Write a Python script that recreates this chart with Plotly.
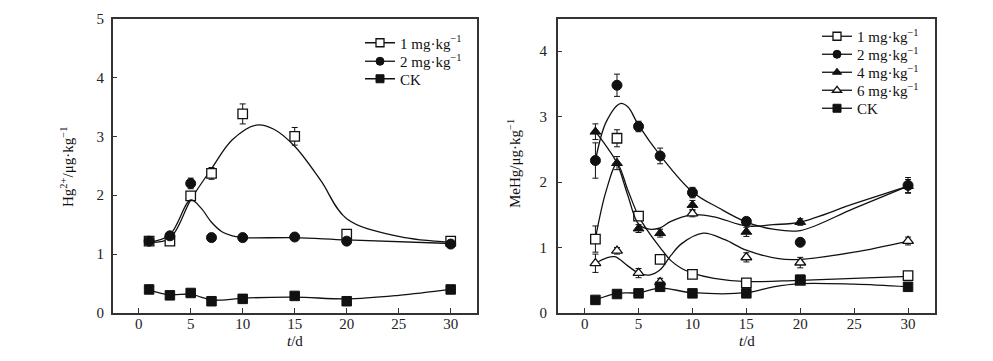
import plotly.graph_objects as go

# ---------------- data ----------------
t = [1, 3, 5, 7, 10, 15, 20, 30]

# Left panel: Hg2+
L_1mg = [1.22, 1.22, 1.99, 2.37, 3.38, 3.00, 1.34, 1.22]
L_1mg_err = [0.03, 0.04, 0.06, 0.10, 0.17, 0.15, 0.05, 0.03]
L_2mg = [1.22, 1.31, 2.20, 1.28, 1.28, 1.29, 1.22, 1.17]
L_2mg_err = [0.04, 0.05, 0.09, 0.04, 0.03, 0.03, 0.03, 0.04]
L_ck = [0.40, 0.30, 0.34, 0.20, 0.24, 0.29, 0.20, 0.40]
L_ck_err = [0.07, 0.05, 0.06, 0.07, 0.07, 0.06, 0.07, 0.06]

# fitted curves
L_1mg_cx = [1, 3, 5, 7, 9, 11.3, 13, 15, 17.5, 20, 25, 30]
L_1mg_cy = [1.20, 1.27, 1.92, 2.45, 2.94, 3.19, 3.12, 2.83, 2.25, 1.60, 1.30, 1.20]
L_2mg_cx = [1, 3, 5, 6, 7, 8, 9, 10, 15, 20, 30]
L_2mg_cy = [1.20, 1.33, 1.92, 1.78, 1.54, 1.38, 1.31, 1.28, 1.28, 1.24, 1.18]
L_ck_cx = [1, 3, 5, 6, 7, 8, 10, 15, 20, 25, 30]
L_ck_cy = [0.39, 0.31, 0.32, 0.27, 0.22, 0.22, 0.25, 0.27, 0.24, 0.30, 0.40]

# Right panel: MeHg
R_1mg = [1.13, 2.67, 1.48, 0.82, 0.59, 0.46, 0.50, 0.57]
R_1mg_err = [0.20, 0.13, 0.06, 0.04, 0.04, 0.04, 0.03, 0.04]
R_2mg = [2.33, 3.48, 2.85, 2.40, 1.84, 1.40, 1.08, 1.95]
R_2mg_err = [0.27, 0.17, 0.08, 0.12, 0.08, 0.06, 0.03, 0.12]
R_4mg = [2.77, 2.29, 1.29, 1.22, 1.65, 1.24, 1.39, 1.94]
R_4mg_err = [0.12, 0.10, 0.06, 0.06, 0.07, 0.07, 0.05, 0.10]
R_6mg = [0.76, 0.95, 0.61, 0.47, 1.52, 0.85, 0.77, 1.10]
R_6mg_err = [0.14, 0.05, 0.07, 0.06, 0.05, 0.07, 0.08, 0.06]
R_ck = [0.20, 0.29, 0.30, 0.40, 0.30, 0.30, 0.51, 0.40]
R_ck_err = [0.03, 0.03, 0.03, 0.03, 0.03, 0.03, 0.03, 0.03]

R_1mg_cx = [1, 2, 3, 4, 5, 6, 7, 8, 9, 10, 12, 15, 20, 30]
R_1mg_cy = [1.14, 1.87, 2.28, 1.88, 1.48, 1.22, 1.00, 0.80, 0.68, 0.61, 0.53, 0.48, 0.50, 0.56]
R_2mg_cx = [1, 2, 3.3, 4, 5, 7, 10, 12.5, 15, 17.5, 20, 25, 30]
R_2mg_cy = [2.33, 2.92, 3.20, 3.15, 2.87, 2.41, 1.85, 1.60, 1.39, 1.28, 1.26, 1.60, 1.94]
R_4mg_cx = [1, 2, 3, 4, 5, 6, 7, 8, 10, 12, 15, 17.5, 20, 25, 30]
R_4mg_cy = [2.77, 2.55, 2.29, 1.80, 1.36, 1.28, 1.30, 1.40, 1.50, 1.47, 1.33, 1.35, 1.39, 1.67, 1.94]
R_6mg_cx = [1, 2, 2.8, 4, 5, 6, 7, 8, 9, 11, 13, 15, 18, 20, 25, 30]
R_6mg_cy = [0.76, 0.84, 0.86, 0.72, 0.61, 0.58, 0.66, 0.88, 1.06, 1.22, 1.12, 0.96, 0.83, 0.82, 0.93, 1.10]
R_ck_cx = [1, 3, 5, 7, 10, 15, 17.5, 20, 25, 30]
R_ck_cy = [0.20, 0.30, 0.31, 0.38, 0.31, 0.31, 0.40, 0.45, 0.44, 0.40]

x_ticks = [0, 5, 10, 15, 20, 25, 30]
L_yticks = [0, 1, 2, 3, 4, 5]
R_yticks = [0, 1, 2, 3, 4]

labels = {"1": "1 mg·kg<sup>−1</sup>", "2": "2 mg·kg<sup>−1</sup>",
          "4": "4 mg·kg<sup>−1</sup>", "6": "6 mg·kg<sup>−1</sup>", "ck": "CK"}

# ---------------- styles ----------------
FONT = "Liberation Serif"
BLACK = "#111111"
styles = {
    "1": dict(symbol="square", color="white", line=dict(color=BLACK, width=1.3)),
    "2": dict(symbol="circle", color=BLACK, line=dict(color=BLACK, width=1)),
    "4": dict(symbol="triangle-up", color=BLACK, line=dict(color=BLACK, width=1)),
    "6": dict(symbol="triangle-up", color="white", line=dict(color=BLACK, width=1.3)),
    "ck": dict(symbol="square", color=BLACK, line=dict(color=BLACK, width=1)),
}
msize = {"1": 9.5, "2": 10, "4": 9.5, "6": 9.5, "ck": 9.5}

# page has an 8px body margin; figure coordinates = page coordinates - 8
W, H = 977, 345
OFF = 8

fig = go.Figure()
legend_layout = {}
legend_count = [0]


def add_series(key, cx, cy, y, err, xa, ya, leg_x, leg_y):
    fig.add_trace(go.Scatter(x=cx, y=cy, mode="lines", xaxis=xa, yaxis=ya,
                             line=dict(color=BLACK, width=1.3, shape="spline", smoothing=1.0),
                             showlegend=False, hoverinfo="skip"))
    st = styles[key]
    fig.add_trace(go.Scatter(x=t, y=y, mode="markers", xaxis=xa, yaxis=ya,
                             marker=dict(symbol=st["symbol"], color=st["color"], size=msize[key],
                                         line=st["line"]),
                             error_y=dict(type="data", array=err, color=BLACK, thickness=1, width=3),
                             showlegend=False))
    legend_count[0] += 1
    n = legend_count[0]
    lname = "legend" if n == 1 else f"legend{n}"
    fig.add_trace(go.Scatter(x=[None], y=[None], mode="lines+markers", xaxis=xa, yaxis=ya,
                             name=labels[key], legend=lname, showlegend=True,
                             line=dict(color=BLACK, width=1.3),
                             marker=dict(symbol=st["symbol"], color=st["color"], size=8,
                                         line=st["line"])))
    legend_layout[lname] = dict(x=(leg_x - OFF) / W, y=1 - (leg_y - OFF) / H,
                                xanchor="left", yanchor="middle",
                                bgcolor="rgba(0,0,0,0)", borderwidth=0,
                                font=dict(family=FONT, size=15, color="#111111"),
                                itemwidth=30)


# legend positions given as page pixels (x of legend box left edge, y of row centre)
add_series("1", L_1mg_cx, L_1mg_cy, L_1mg, L_1mg_err, "x", "y", 352 + OFF, 43)
add_series("2", L_2mg_cx, L_2mg_cy, L_2mg, L_2mg_err, "x", "y", 352 + OFF, 61.5)
add_series("ck", L_ck_cx, L_ck_cy, L_ck, L_ck_err, "x", "y", 352 + OFF, 79)

add_series("1", R_1mg_cx, R_1mg_cy, R_1mg, R_1mg_err, "x2", "y2", 809 + OFF, 36.5)
add_series("2", R_2mg_cx, R_2mg_cy, R_2mg, R_2mg_err, "x2", "y2", 809 + OFF, 54.5)
add_series("4", R_4mg_cx, R_4mg_cy, R_4mg, R_4mg_err, "x2", "y2", 809 + OFF, 72.5)
add_series("6", R_6mg_cx, R_6mg_cy, R_6mg, R_6mg_err, "x2", "y2", 809 + OFF, 90.5)
add_series("ck", R_ck_cx, R_ck_cy, R_ck, R_ck_err, "x2", "y2", 809 + OFF, 108.5)


def px_x(p):
    return (p - OFF) / W


def px_y(p):
    return 1 - (p - OFF) / H


ydom = [px_y(313), px_y(18.5)]

axis_common = dict(showline=True, linecolor="#333333", linewidth=1.5, mirror=True,
                   ticks="inside", ticklen=5, tickwidth=1, tickcolor="#333333",
                   showgrid=False, zeroline=False, automargin=False,
                   tickfont=dict(family=FONT, size=15, color="#222222"))

fig.update_layout(
    width=W, height=H,
    margin=dict(l=0, r=0, t=0, b=0),
    paper_bgcolor="white", plot_bgcolor="white",
    font=dict(family=FONT, size=15, color="#111111"),
    xaxis=dict(domain=[px_x(112.7), px_x(476.7)], range=[-2.5, 32.5], tickvals=x_ticks,
               anchor="y", ticklabelstandoff=-4, **axis_common),
    yaxis=dict(domain=ydom, range=[0, 5], tickvals=L_yticks, anchor="x",
               ticklabelstandoff=4, **axis_common),
    xaxis2=dict(domain=[px_x(557.7), px_x(935)], range=[-2.5, 32.5], tickvals=x_ticks,
                anchor="y2", ticklabelstandoff=-4, **axis_common),
    yaxis2=dict(domain=ydom, range=[0, 4.5], tickvals=R_yticks, anchor="x2",
                ticklabelstandoff=6, **axis_common),
    showlegend=True,
    annotations=[
        dict(text="Hg<sup>2+</sup>/μg·kg<sup>−1</sup>", xref="paper", yref="paper",
             x=px_x(67), y=px_y(167), textangle=-90, showarrow=False,
             xanchor="center", yanchor="middle", font=dict(family=FONT, size=15)),
        dict(text="MeHg/μg·kg<sup>−1</sup>", xref="paper", yref="paper",
             x=px_x(514), y=px_y(164), textangle=-90, showarrow=False,
             xanchor="center", yanchor="middle", font=dict(family=FONT, size=15)),
        dict(text="<i>t</i>/d", xref="paper", yref="paper",
             x=px_x(295), y=px_y(341), showarrow=False,
             xanchor="center", yanchor="middle", font=dict(family=FONT, size=15)),
        dict(text="<i>t</i>/d", xref="paper", yref="paper",
             x=px_x(746.5), y=px_y(341), showarrow=False,
             xanchor="center", yanchor="middle", font=dict(family=FONT, size=15)),
    ],
)
fig.update_layout(**legend_layout)

fig.write_html("out.html")
